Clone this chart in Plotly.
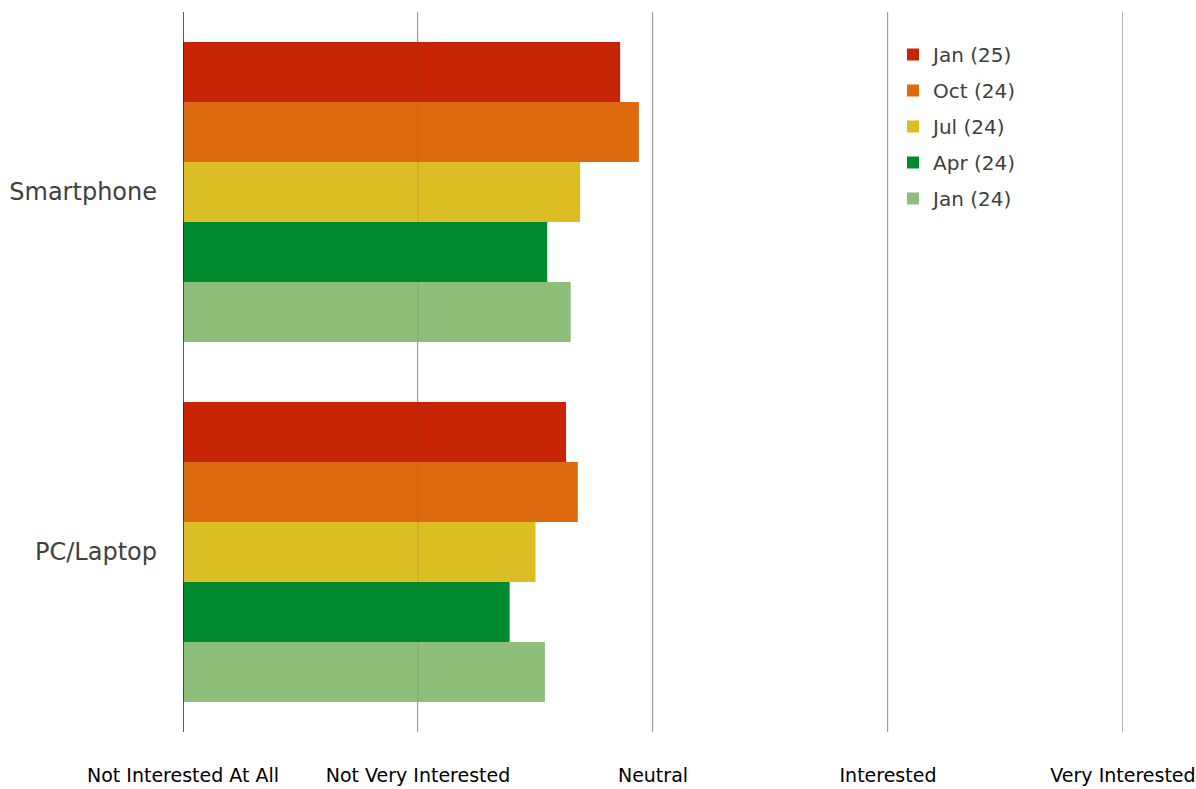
import plotly.graph_objects as go

categories = ["Smartphone", "PC/Laptop"]
series_names = ["Jan (25)", "Oct (24)", "Jul (24)", "Apr (24)", "Jan (24)"]
series_values = {
    "Jan (25)": [2.86, 2.63],
    "Oct (24)": [2.94, 2.68],
    "Jul (24)": [2.69, 2.50],
    "Apr (24)": [2.55, 2.39],
    "Jan (24)": [2.65, 2.54],
}
colors = ["#C82506", "#DE6A10", "#DCBD23", "#008A2E", "#8DBF7B"]
tick_vals = [1, 2, 3, 4, 5]
tick_text = ["Not Interested At All", "Not Very Interested", "Neutral", "Interested", "Very Interested"]
axis_min, axis_max = 1, 5

font_family = "DejaVu Sans"
fig = go.Figure()
for name, col in zip(series_names, colors):
    fig.add_trace(go.Bar(
        y=categories, x=[v - axis_min for v in series_values[name]], base=axis_min,
        name=name, orientation="h", legendgroup=name,
        marker=dict(color=col, line=dict(width=0)),
    ))

fig.update_layout(
    width=1196, height=789,
    margin=dict(l=183, r=73, t=12, b=57, autoexpand=False),
    paper_bgcolor="white", plot_bgcolor="white",
    barmode="group", bargap=1/6, bargroupgap=0,
    font=dict(family=font_family, color="#404040"),
    showlegend=True,
    legend=dict(x=(893 - 183) / 940, y=(732 - 35) / 720, xanchor="left", yanchor="top",
                font=dict(size=20, color="#404040"), bgcolor="rgba(0,0,0,0)",
                itemwidth=30, tracegroupgap=7),
    xaxis=dict(range=[axis_min, axis_max + 0.0001], tickvals=tick_vals, ticktext=tick_text,
               showgrid=True, gridcolor="#A6A6A6", gridwidth=1.3,
               zeroline=False, showline=False, ticks="", automargin=False,
               ticklabeloverflow="allow",
               tickfont=dict(size=19, color="#000000"), ticklabelstandoff=30),
    yaxis=dict(autorange="reversed", showgrid=False, zeroline=False, automargin=False,
               showline=False, ticks="", tickfont=dict(size=24, color="#404040"),
               ticklabelstandoff=25),
)
# right-edge gridline (edge of the plot)
fig.add_shape(type="line", xref="x", yref="paper", x0=axis_max, x1=axis_max, y0=0, y1=1,
              line=dict(color="#A6A6A6", width=1.3), layer="below")
# faint gridlines visible through the bars
for v in tick_vals[1:]:
    fig.add_shape(type="line", xref="x", yref="paper", x0=v, x1=v, y0=0, y1=1,
                  line=dict(color="rgba(90,90,90,0.18)", width=1.3), layer="above")
fig.add_shape(type="line", xref="x", yref="paper", x0=axis_min, x1=axis_min, y0=0, y1=1,
              line=dict(color="#262626", width=1.5), layer="above")
fig.write_html("out.html")
